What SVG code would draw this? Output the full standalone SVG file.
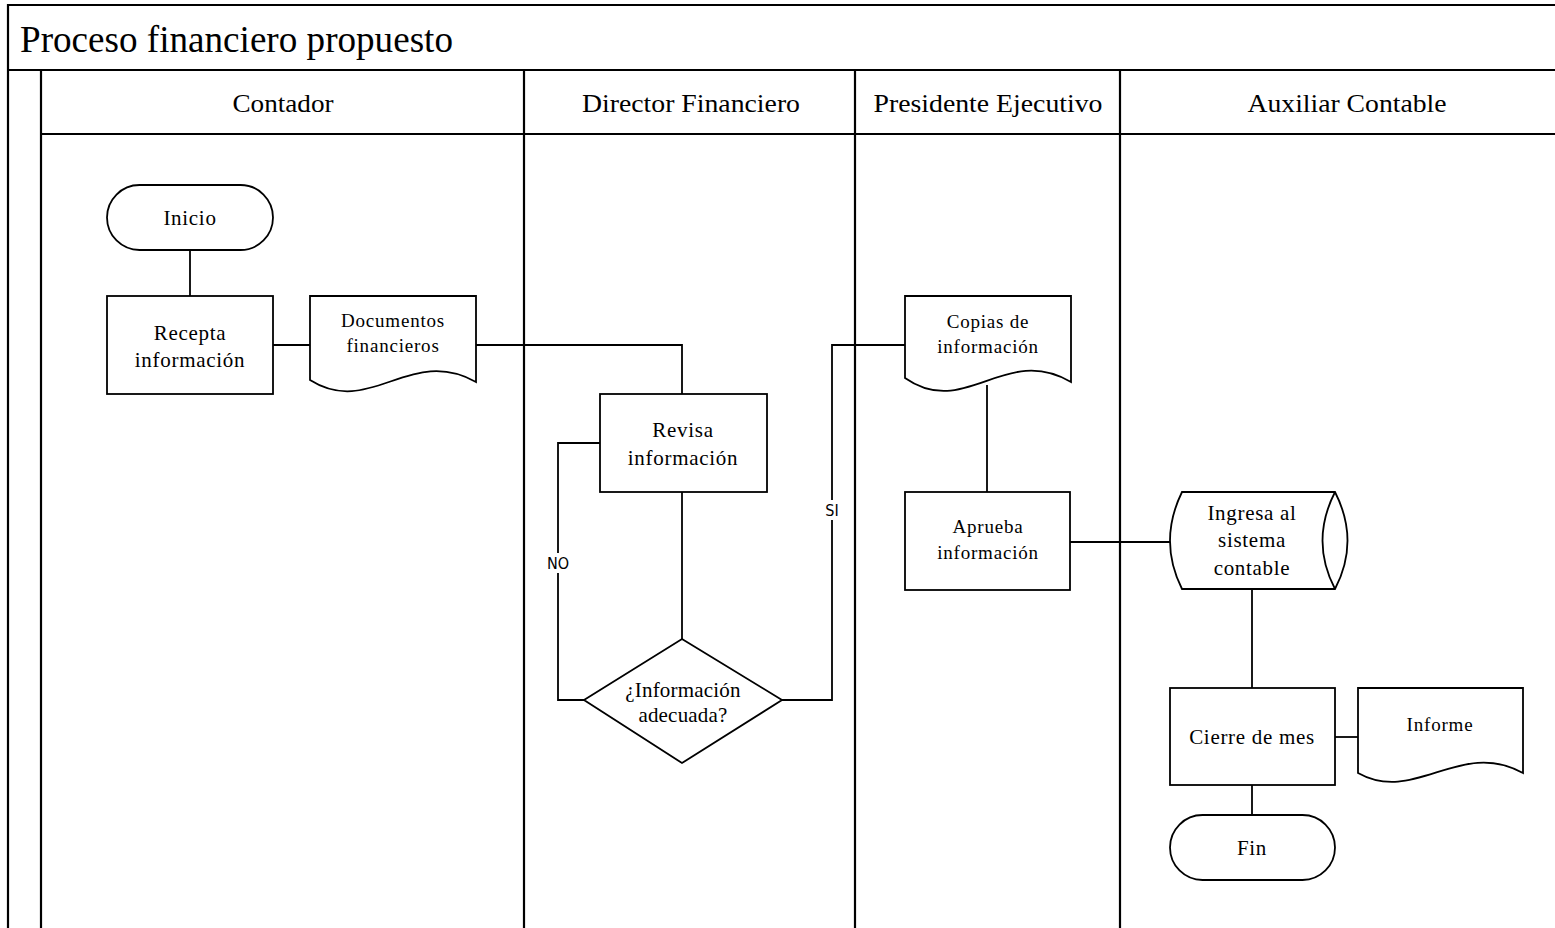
<svg xmlns="http://www.w3.org/2000/svg" width="1555" height="928" viewBox="0 0 1555 928">
  <style>
    .lane { fill: none; stroke: #000; stroke-width: 2.2; }
    .shape { fill: #fff; stroke: #000; stroke-width: 1.8; }
    .wire { fill: none; stroke: #000; stroke-width: 1.8; }
    .t { font-family: "Liberation Serif", "Times New Roman", serif; fill: #000; text-anchor: middle; }
    .title { font-size: 37px; text-anchor: start; }
    .hdr { font-size: 25px; }
    .node { font-size: 21px; letter-spacing: 0.7px; }
    .small { font-size: 19px; letter-spacing: 0.8px; }
    .lbl { font-family: "DejaVu Sans Condensed", "Liberation Sans", sans-serif; font-stretch: condensed; font-size: 16px; fill: #000; text-anchor: middle; }
  </style>

  <rect width="1555" height="928" fill="#fff"/>

  <!-- pool frame and lanes -->
  <g id="pool">
    <path class="lane" d="M8,928 V5 H1555"/>
    <path class="lane" d="M8,70 H1555"/>
    <path class="lane" d="M41,70 V928"/>
    <path class="lane" d="M41,134 H1555"/>
    <path class="lane" d="M524,70 V928"/>
    <path class="lane" d="M855,70 V928"/>
    <path class="lane" d="M1120,70 V928"/>
    <text class="t title" x="20" y="52" textLength="433" lengthAdjust="spacingAndGlyphs">Proceso financiero propuesto</text>
    <text class="t hdr" x="283" y="112" textLength="101" lengthAdjust="spacingAndGlyphs">Contador</text>
    <text class="t hdr" x="691" y="112" textLength="218" lengthAdjust="spacingAndGlyphs">Director Financiero</text>
    <text class="t hdr" x="988" y="112" textLength="229" lengthAdjust="spacingAndGlyphs">Presidente Ejecutivo</text>
    <text class="t hdr" x="1347" y="112" textLength="199" lengthAdjust="spacingAndGlyphs">Auxiliar Contable</text>
  </g>

  <!-- connectors -->
  <g id="connectors">
    <path class="wire" d="M190,250 V296"/>
    <path class="wire" d="M273,345 H310"/>
    <path class="wire" d="M476,345 H682 V394"/>
    <path class="wire" d="M682,492 V639"/>
    <path class="wire" d="M584,700 H558 V443 H600"/>
    <path class="wire" d="M782,700 H832 V345 H905"/>
    <path class="wire" d="M987,385 V492"/>
    <path class="wire" d="M1070,542 H1170"/>
    <path class="wire" d="M1252,589 V688"/>
    <path class="wire" d="M1335,737 H1358"/>
    <path class="wire" d="M1252,785 V815"/>
    <rect x="547" y="553" width="22" height="20" fill="#fff"/>
    <text class="lbl" x="558" y="569">NO</text>
    <rect x="824" y="500" width="16" height="20" fill="#fff"/>
    <text class="lbl" x="832" y="516">SI</text>
  </g>

  <g id="inicio">
    <rect class="shape" x="107" y="185" width="166" height="65" rx="32.5"/>
    <text class="t node" x="190" y="225">Inicio</text>
  </g>

  <g id="recepta">
    <rect class="shape" x="107" y="296" width="166" height="98"/>
    <text class="t node" x="190" y="340">Recepta</text>
    <text class="t node" x="190" y="367">información</text>
  </g>

  <g id="documentos">
    <path class="shape" d="M310,296 H476 V382 C410,345 370,418 310,380 Z"/>
    <text class="t small" x="393" y="327">Documentos</text>
    <text class="t small" x="393" y="352">financieros</text>
  </g>

  <g id="revisa">
    <rect class="shape" x="600" y="394" width="167" height="98"/>
    <text class="t node" x="683" y="437">Revisa</text>
    <text class="t node" x="683" y="465">información</text>
  </g>

  <g id="decision">
    <polygon class="shape" points="682,639 782,700 682,763 584,700"/>
    <text class="t node" x="683" y="697" style="letter-spacing:0.2px">¿Información</text>
    <text class="t node" x="683" y="722" style="letter-spacing:0.2px">adecuada?</text>
  </g>

  <g id="copias">
    <path class="shape" d="M905,296 H1071 V382 C1005,343 965,420 905,378 Z"/>
    <text class="t small" x="988" y="328">Copias de</text>
    <text class="t small" x="988" y="353">información</text>
  </g>

  <g id="aprueba">
    <rect class="shape" x="905" y="492" width="165" height="98"/>
    <text class="t small" x="988" y="533">Aprueba</text>
    <text class="t small" x="988" y="559">información</text>
  </g>

  <g id="ingresa">
    <path class="shape" d="M1182,492 H1335 Q1360,541 1335,589 H1182 Q1158,541 1182,492 Z"/>
    <path class="wire" d="M1335,492 Q1310,541 1335,589"/>
    <text class="t node" x="1252" y="520">Ingresa al</text>
    <text class="t node" x="1252" y="547">sistema</text>
    <text class="t node" x="1252" y="575">contable</text>
  </g>

  <g id="cierre">
    <rect class="shape" x="1170" y="688" width="165" height="97"/>
    <text class="t node" x="1252" y="744">Cierre de mes</text>
  </g>

  <g id="informe">
    <path class="shape" d="M1358,688 H1523 V773 C1460,738 1415,805 1358,773 Z"/>
    <text class="t small" x="1440" y="731">Informe</text>
  </g>

  <g id="fin">
    <rect class="shape" x="1170" y="815" width="165" height="65" rx="32.5"/>
    <text class="t node" x="1252" y="855">Fin</text>
  </g>
</svg>
